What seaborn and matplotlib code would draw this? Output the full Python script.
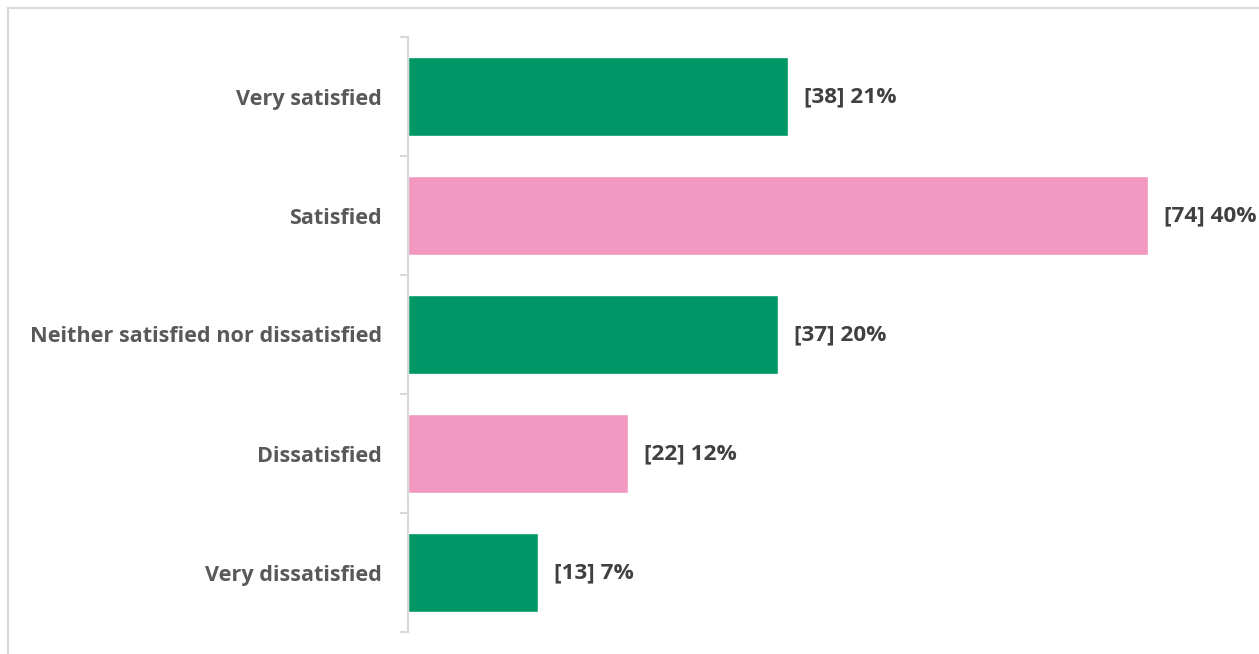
import matplotlib
matplotlib.use("Agg")
import matplotlib.pyplot as plt
import seaborn as sns
import pandas as pd
from matplotlib.patches import Rectangle

categories = ['Very satisfied', 'Satisfied', 'Neither satisfied nor dissatisfied',
              'Dissatisfied', 'Very dissatisfied']
counts = [38, 74, 37, 22, 13]
percents = [21, 40, 20, 12, 7]
colors = ['#009767', '#F298C1', '#009767', '#F298C1', '#009767']

df = pd.DataFrame({'category': categories, 'count': counts})

sns.set_theme(style='white')
plt.rcParams['font.family'] = ['Open Sans', 'DejaVu Sans']

fig = plt.figure(figsize=(12.59, 6.54), dpi=100)
ax = fig.add_axes([408 / 1259, 22 / 654, 851 / 1259, 595 / 654])

sns.barplot(data=df, y='category', x='count', hue='category', palette=colors,
            order=categories, hue_order=categories, width=0.67, legend=False,
            saturation=1, ax=ax)

ax.set_xlim(0, 85.1)
ax.set_ylim(len(categories) - 0.5, -0.5)
ax.set_xlabel('')
ax.set_ylabel('')
ax.set_xticks([])

for s in ['top', 'right', 'bottom']:
    ax.spines[s].set_visible(False)
ax.spines['left'].set_color('#D9D9D9')
ax.spines['left'].set_linewidth(1.5)

ax.set_yticks(range(len(categories)))
ax.set_yticklabels(categories, fontsize=15.6, fontweight='bold', color='#595959')
ax.tick_params(axis='y', which='major', left=True, length=0, pad=18.5)
ax.set_yticks([i - 0.5 for i in range(len(categories) + 1)], minor=True)
ax.tick_params(axis='y', which='minor', left=True, length=6, width=1.5, color='#D9D9D9')

for i, (c, p) in enumerate(zip(counts, percents)):
    ax.text(c + 1.6, i, f'[{c}] {p}%', va='center', ha='left', fontsize=16.2,
            fontweight='bold', color='#404040')

fig.patches.append(Rectangle((8 / 1259, -0.05), 1.1, 1 - 8 / 654 + 0.05,
                             transform=fig.transFigure, fill=False,
                             edgecolor='#D9D9D9', linewidth=1.5))

fig.savefig('out.png', dpi=100)
